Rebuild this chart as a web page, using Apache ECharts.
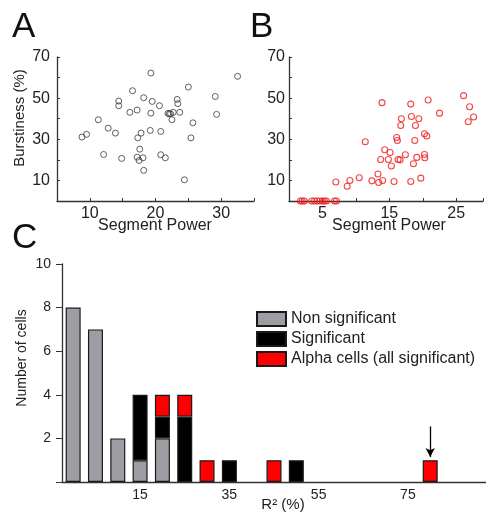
<!DOCTYPE html>
<html>
<head>
<meta charset="utf-8">
<script src="https://cdn.jsdelivr.net/npm/echarts@6/dist/echarts.min.js"></script>
<style>
html,body{margin:0;padding:0;background:#fff;}
#chart{width:486px;height:516px;}
</style>
</head>
<body>
<div id="chart"></div>
<script>
// Panel A: Segment Power vs Burstiness (%)
const aPower = [8.8, 9.5, 11.3, 12.1, 12.8, 13.9, 14.4, 14.4, 14.85, 16.1, 16.5, 17.2, 17.3, 17.6, 17.2, 17.5, 17.8, 18.1, 18.2, 18.2, 19.3, 19.2, 19.3, 19.5, 20.6, 20.8, 20.8, 21.5, 21.9, 22.1, 22.3, 22.7, 22.5, 23.3, 23.4, 23.7, 24.4, 25.0, 25.4, 25.7, 29.1, 29.3, 32.5];
const aBurst = [31.1, 32.4, 39.5, 22.6, 35.4, 33.0, 48.6, 46.3, 20.7, 43.1, 53.6, 44.2, 30.7, 25.2, 21.3, 19.7, 33.0, 21.0, 50.2, 14.9, 62.2, 34.3, 42.7, 48.4, 46.3, 33.8, 22.5, 21.0, 42.6, 42.4, 42.4, 43.1, 39.5, 49.4, 47.3, 43.1, 10.3, 55.4, 30.7, 38.0, 50.8, 42.1, 60.6];
// Panel B: alpha cells
const bPower = [7.0, 8.7, 9.1, 10.5, 11.4, 12.4, 13.3, 13.4, 13.9, 14.0, 13.7, 14.3, 14.85, 15.1, 15.3, 15.7, 16.1, 16.2, 16.3, 16.6, 16.7, 16.8, 17.4, 18.2, 18.3, 18.2, 18.6, 18.8, 18.9, 19.1, 19.4, 19.7, 20.25, 20.25, 20.3, 20.6, 20.8, 22.5, 26.1, 27.0, 26.8, 27.6,
                1.7, 2.0, 2.3, 3.4, 3.8, 4.2, 4.6, 5.0, 5.3, 5.6, 6.8, 7.1];
const bBurst = [9.2, 7.2, 10.0, 11.3, 28.8, 9.8, 13.1, 9.0, 47.8, 10.0, 20.2, 24.9, 20.2, 23.6, 17.0, 9.5, 30.9, 29.4, 20.2, 20.0, 36.7, 40.0, 22.5, 47.1, 41.1, 9.5, 18.1, 29.4, 36.7, 21.2, 40.0, 11.1, 32.7, 22.6, 21.0, 31.6, 49.1, 42.7, 51.2, 45.8, 38.5, 40.8,
                0, 0, 0, 0, 0, 0, 0, 0, 0, 0, 0, 0];
// Panel C: histogram of R^2 (%)
const r2Bins = ['0','5','10','15','20','25','30','35','40','45','50','55','60','65','70','75','80','85','90'];
const nonSignificant = [8, 7, 2, 1, 2, 0, 0, 0, 0, 0, 0, 0, 0, 0, 0, 0, 0, 0, 0];
const significant    = [0, 0, 0, 3, 1, 3, 0, 1, 0, 0, 1, 0, 0, 0, 0, 0, 0, 0, 0];
const alphaCells     = [0, 0, 0, 0, 1, 1, 1, 0, 0, 1, 0, 0, 0, 0, 0, 0, 1, 0, 0];
const arrowMark = ['80', 2.55, 1.15];
// tick labels
const burstLabels = [10, 30, 50, 70];
const aPowerLabels = [10, 20, 30];
const bPowerLabels = [5, 15, 25];
const r2Labels = ['15', '35', '55', '75'];
const countLabels = [2, 4, 6, 8, 10];

const FONT = 'Liberation Sans, Arial, sans-serif';
const TXT = '#222';
const AX = '#333';

const zip = (xs, ys) => xs.map((x, i) => [x, ys[i]]);
const nz = arr => arr.map(v => v === 0 ? '-' : v);

const scatterAxisX = (min, max, labels, gridIndex) => ({
  gridIndex, type: 'value', min, max, interval: 5,
  splitLine: {show: false},
  axisLine: {onZero: false, lineStyle: {color: AX, width: 1.3}},
  axisTick: {inside: true, length: 3, lineStyle: {color: AX}},
  axisLabel: {margin: 5, fontSize: 16, fontFamily: FONT, color: TXT,
    formatter: v => labels.includes(v) ? String(v) : ''}
});
const scatterAxisY = (gridIndex, margin) => ({
  gridIndex, type: 'value', min: 0, max: 70, interval: 10,
  splitLine: {show: false},
  axisLine: {show: true, onZero: false, lineStyle: {color: AX, width: 1.3}},
  axisTick: {show: true, inside: true, length: 3, lineStyle: {color: AX}},
  axisLabel: {margin, fontSize: 16, fontFamily: FONT, color: TXT,
    formatter: v => burstLabels.includes(v) ? String(v) : ''}
});

const chart = echarts.init(document.getElementById('chart'), null, {renderer: 'canvas'});
const barStyle = c => ({color: c, borderColor: '#1a1a1a', borderWidth: 1.2});

chart.setOption({
  animation: false,
  backgroundColor: '#fff',
  textStyle: {fontFamily: FONT},
  grid: [
    {left: 57, top: 57, width: 197, height: 144},
    {left: 289, top: 57, width: 197, height: 144},
    {left: 62, top: 264, width: 432, height: 218}
  ],
  xAxis: [
    scatterAxisX(5, 35, aPowerLabels, 0),
    scatterAxisX(0, 29, bPowerLabels, 1),
    {
      gridIndex: 2, type: 'category', data: r2Bins, boundaryGap: true,
      axisLine: {onZero: false, lineStyle: {color: AX, width: 1.3}},
      axisTick: {alignWithLabel: true, interval: 0, length: 5, lineStyle: {color: AX}},
      axisLabel: {interval: 0, margin: 6, fontSize: 14, fontFamily: FONT, color: TXT,
        formatter: v => r2Labels.includes(v) ? v : ''}
    }
  ],
  yAxis: [
    scatterAxisY(0, 7),
    scatterAxisY(1, 4),
    {
      gridIndex: 2, type: 'value', min: 0, max: 10, interval: 2,
      splitLine: {show: false},
      axisLine: {show: true, lineStyle: {color: AX, width: 1.3}},
      axisTick: {show: true, length: 6, lineStyle: {color: AX}},
      axisLabel: {margin: 11, fontSize: 14, fontFamily: FONT, color: TXT,
        formatter: v => countLabels.includes(v) ? String(v) : ''}
    }
  ],
  legend: {
    orient: 'vertical', left: 251, top: 306, itemWidth: 29, itemHeight: 14, itemGap: 4,
    icon: 'rect',
    textStyle: {fontSize: 16, fontFamily: FONT, color: TXT},
    data: ['Non significant', 'Significant', 'Alpha cells (all significant)']
  },
  series: [
    {type: 'scatter', xAxisIndex: 0, yAxisIndex: 0, data: zip(aPower, aBurst),
     symbol: 'circle', symbolSize: 6, clip: false,
     itemStyle: {color: 'rgba(255,255,255,0)', borderColor: '#3a3a3a', borderWidth: 1}},
    {type: 'scatter', xAxisIndex: 1, yAxisIndex: 1, data: zip(bPower, bBurst),
     symbol: 'circle', symbolSize: 6, clip: false,
     itemStyle: {color: 'rgba(255,255,255,0)', borderColor: '#f01818', borderWidth: 1.1}},
    {name: 'Non significant', type: 'bar', xAxisIndex: 2, yAxisIndex: 2, stack: 'c',
     barWidth: 15, data: nz(nonSignificant), itemStyle: barStyle('#9e9da4')},
    {name: 'Significant', type: 'bar', xAxisIndex: 2, yAxisIndex: 2, stack: 'c',
     barWidth: 15, data: nz(significant), itemStyle: barStyle('#000000')},
    {name: 'Alpha cells (all significant)', type: 'bar', xAxisIndex: 2, yAxisIndex: 2, stack: 'c',
     barWidth: 15, data: nz(alphaCells), itemStyle: barStyle('#ff0000'),
     markLine: {
       silent: true, animation: false, symbolSize: [7, 9],
       lineStyle: {color: '#000', width: 1.3, type: 'solid'},
       label: {show: false},
       data: [[{coord: [arrowMark[0], arrowMark[1]], symbol: 'none'},
               {coord: [arrowMark[0], arrowMark[2]], symbol: 'arrow'}]]
     }}
  ],
  graphic: [
    {type: 'text', x: 12, y: 27, style: {text: 'A', font: '35px ' + FONT, fill: '#111', textAlign: 'left', textVerticalAlign: 'middle'}},
    {type: 'text', x: 250, y: 27, style: {text: 'B', font: '35px ' + FONT, fill: '#111', textAlign: 'left', textVerticalAlign: 'middle'}},
    {type: 'text', x: 12, y: 238, style: {text: 'C', font: '35px ' + FONT, fill: '#111', textAlign: 'left', textVerticalAlign: 'middle'}},
    {type: 'text', x: 20, y: 118, rotation: Math.PI / 2, style: {text: 'Burstiness (%)', font: '15px ' + FONT, fill: TXT, textAlign: 'center', textVerticalAlign: 'middle'}},
    {type: 'text', x: 155, y: 226, style: {text: 'Segment Power', font: '16px ' + FONT, fill: TXT, textAlign: 'center', textVerticalAlign: 'middle'}},
    {type: 'text', x: 389, y: 226, style: {text: 'Segment Power', font: '16px ' + FONT, fill: TXT, textAlign: 'center', textVerticalAlign: 'middle'}},
    {type: 'text', x: 22, y: 358, rotation: Math.PI / 2, style: {text: 'Number of cells', font: '14px ' + FONT, fill: TXT, textAlign: 'center', textVerticalAlign: 'middle'}},
    {type: 'text', x: 283, y: 505, style: {text: 'R² (%)', font: '15px ' + FONT, fill: TXT, textAlign: 'center', textVerticalAlign: 'middle'}}
  ]
});
</script>
</body>
</html>
